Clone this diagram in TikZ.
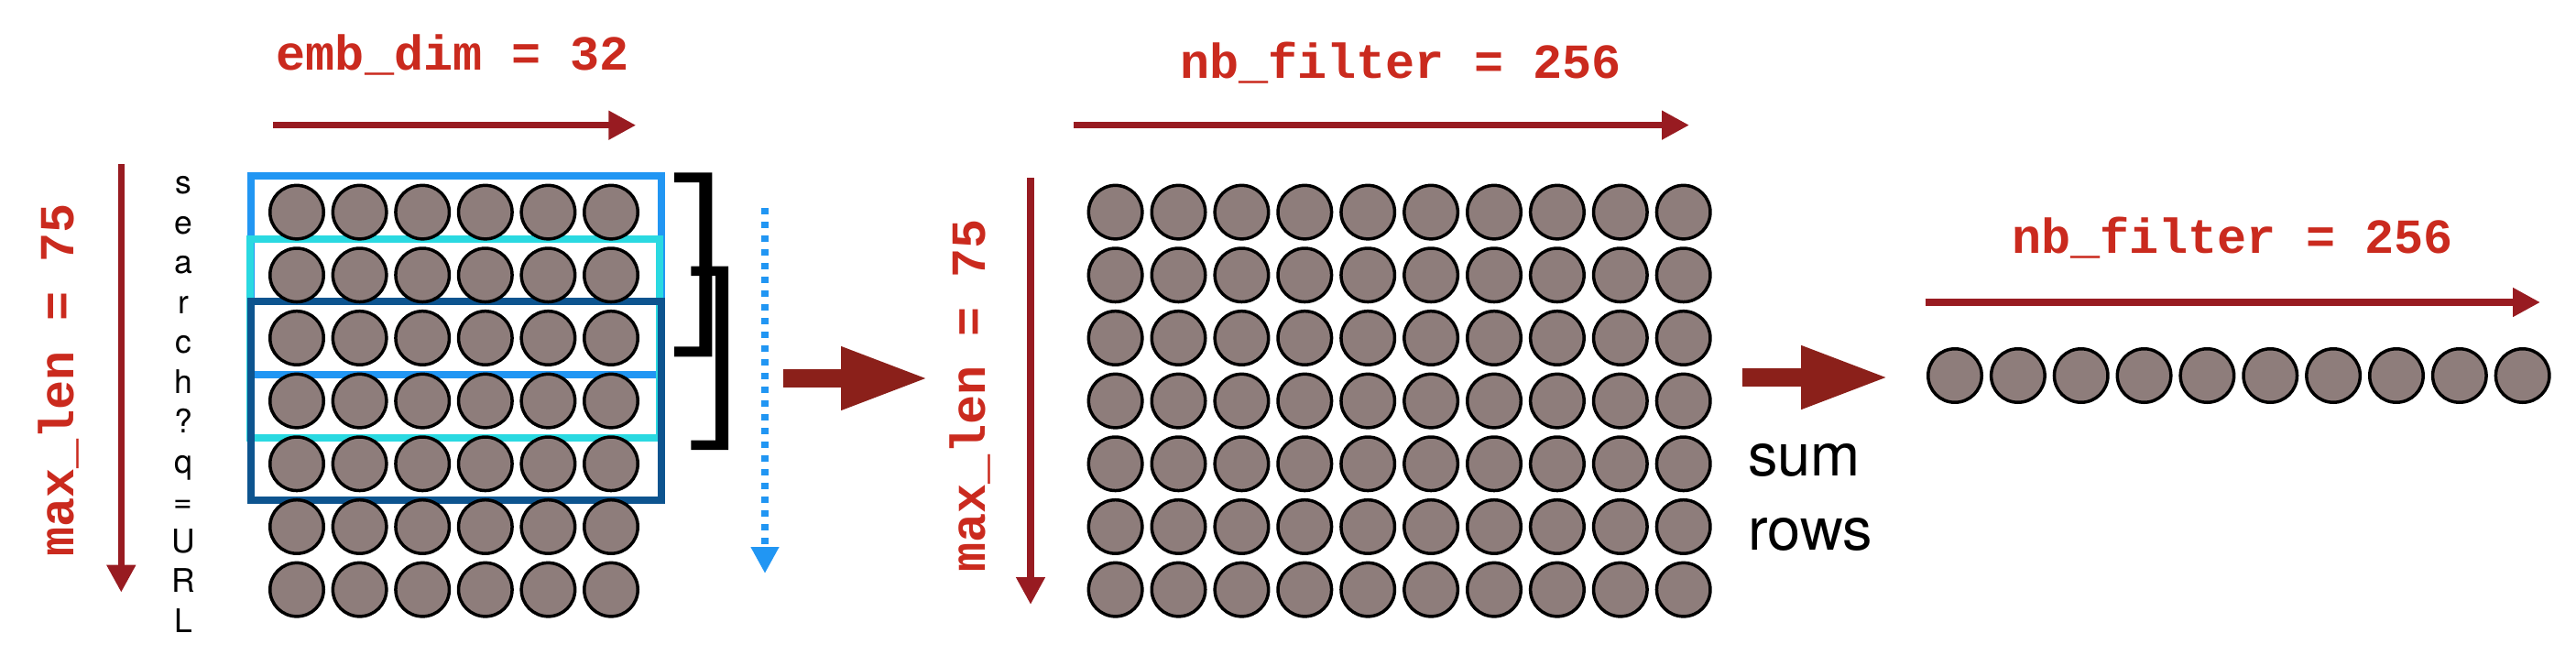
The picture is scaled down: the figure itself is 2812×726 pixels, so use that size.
\documentclass[tikz,border=0pt]{standalone}
\usepackage{fontspec}
\setmainfont{TeX Gyre Heros}
\newfontfamily\dimfont{Liberation Mono}
\usetikzlibrary{arrows.meta}
\definecolor{cellfill}{RGB}{142,125,123}
\definecolor{labelred}{RGB}{202,42,30}
\definecolor{axisred}{RGB}{152,27,33}
\definecolor{fatred}{RGB}{139,32,26}
\definecolor{winblue}{RGB}{33,150,243}
\definecolor{wincyan}{RGB}{42,217,225}
\definecolor{windark}{RGB}{13,84,143}
\begin{document}
\begin{tikzpicture}
  [x=1pt,y=-1pt,
   cell/.style={circle,draw=black,fill=cellfill,line width=3.5pt,minimum size=58.5pt,inner sep=0pt},
   dimlabel/.style={text=labelred,font=\dimfont\bfseries\fontsize{53.5}{60}\selectfont,anchor=base,inner sep=0pt},
   letter/.style={font=\fontsize{35.5}{40}\selectfont,anchor=base,inner sep=0pt},
   sumtext/.style={font=\fontsize{65}{81}\selectfont,anchor=base west,inner sep=0pt},
   axis/.style={draw=axisred,line width=7.5pt,-{Triangle[length=30pt,width=30pt]}},
   fat/.style={draw=fatred,line width=19.4pt,-{Triangle[length=95.5pt,width=64pt]}},
   slide/.style={draw=winblue,line width=8pt,dash pattern=on 7pt off 8pt,-{Triangle[length=29pt,width=29pt]}},
   window/.style={line width=8pt}]
  \useasboundingbox (0,0) rectangle (2812,726);

  \node[dimlabel] (embdim) at (494.4,76) {emb\_dim = 32};
  \node[dimlabel] (nbmid) at (1528.8,85.6) {nb\_filter = 256};
  \node[dimlabel] (nbright) at (2436.8,276.7) {nb\_filter = 256};
  \node[dimlabel,rotate=90] (lenleft) at (80,415) {max\_len = 75};
  \node[dimlabel,rotate=90] (lenmid) at (1075,431.7) {max\_len = 75};

  \coordinate (embs) at (298.3,136.7);  \coordinate (embe) at (694.3,136.7);
  \coordinate (lens) at (132.3,179.3);  \coordinate (lene) at (132.3,646.7);
  \coordinate (nbs) at (1172,136.6);    \coordinate (nbe) at (1844,136.6);
  \coordinate (mlens) at (1125,194);    \coordinate (mlene) at (1125,660);
  \coordinate (rnbs) at (2101.5,330);   \coordinate (rnbe) at (2773,330);
  \draw[axis] (embs) -- (embe);
  \draw[axis] (lens) -- (lene);
  \draw[axis] (nbs) -- (nbe);
  \draw[axis] (mlens) -- (mlene);
  \draw[axis] (rnbs) -- (rnbe);

  \foreach \ch [count=\i from 0] in {s,e,a,r,c,h,?,q,=,U,R,L}
    \node[letter] (ch\i) at (200,211.7+43.5*\i) {\ch};

  \draw[window,winblue] (274,192) rectangle (722,409);
  \draw[window,wincyan] (273,261) rectangle (720,478);
  \draw[window,windark] (274,329) rectangle (722,546);

  \foreach \r in {0,...,6}{
    \foreach \c in {0,...,5}
      \node[cell] (l\r\c) at (324+68.6*\c,231.6+68.67*\r) {};
    \foreach \c in {0,...,9}
      \node[cell] (m\r\c) at (1217.6+68.9*\c,231.6+68.67*\r) {};
  }
  \foreach \c in {0,...,9}
    \node[cell] (r\c) at (2134+68.85*\c,410) {};

  \fill (736,188.3) -- (777.3,188.3) -- (777.3,389.3) -- (736,389.3) -- (736,378.3)
    -- (763.3,378.3) -- (763.3,199) -- (736,199) -- cycle;
  \fill (754.3,290.7) -- (795,290.7) -- (795,491) -- (754.3,491) -- (754.3,480.7)
    -- (781,480.7) -- (781,301) -- (754.3,301) -- cycle;

  \coordinate (slides) at (835,227.3);  \coordinate (slidee) at (835,626);
  \draw[slide] (slides) -- (slidee);

  \coordinate (conv1) at (855,413);     \coordinate (conv2) at (1013.5,413);
  \draw[fat] (conv1) -- (conv2);
  \coordinate (sum1) at (1901.7,412);   \coordinate (sum2) at (2061.7,412);
  \draw[fat] (sum1) -- (sum2);

  \node[sumtext] (sum) at (1908,519.3) {sum};
  \node[sumtext] (rows) at (1908,600) {rows};
\end{tikzpicture}
\end{document}
